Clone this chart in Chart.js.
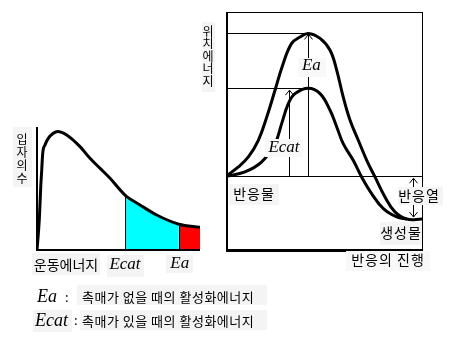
<!DOCTYPE html>
<html>
<head>
<meta charset="utf-8">
<script src="https://cdn.jsdelivr.net/npm/chart.js@4"></script>
<style>
  html, body { margin: 0; padding: 0; background: #fff; }
  #wrap { position: relative; width: 454px; height: 340px; }
  #wrap canvas { position: absolute; left: 0; top: 0; pointer-events: none; }
</style>
</head>
<body>
<div id="wrap">
  <canvas id="dist" width="454" height="340"></canvas>
  <canvas id="profile" width="454" height="340"></canvas>
</div>
<script>
// ---- Kinetic energy distribution (left panel) ----
const energy    = [0, 0.14, 0.23, 0.29, 0.35, 0.49, 0.69, 1.0, 1.26, 1.82, 2.64, 3.25, 3.87, 4.48, 5.4, 6.32, 7.34, 8.7, 10];
const particles = [0, 23.1, 48.7, 61.5, 74.4, 80.8, 85.9, 89.8, 91.2, 88.5, 79.5, 70.5, 62.8, 55.2, 42.3, 34.6, 26.9, 19.8, 17.5];
const ECAT = 5.4;   // activation energy with catalyst
const EA = 8.7;     // activation energy without catalyst
const DIST_AXIS_TOP = 94.6;

// ---- Potential energy along the reaction (right panel) ----
const progressEa  = [0, 6.3, 11.4, 16.5, 20.8, 25, 29.2, 33.5, 37.8, 42, 48, 53.1, 56.5, 59.8, 63.3, 67.5, 71.8, 76, 81.1, 86.2, 92.2, 100];
const energyEa    = [0, 3.9, 8.1, 15.1, 24.9, 36.1, 47.4, 55.8, 58.5, 60, 57.9, 52.9, 44.5, 33.3, 23.5, 15.1, 6.7, -0.3, -8.7, -15, -18, -18];
const progressCat = [0, 9.7, 18.2, 25, 28.4, 31.8, 35.2, 42, 48, 53.1, 56.5, 59.8, 64.9, 69.2, 74.3, 80.3, 87.1, 92.2];
const energyCat   = [0, 1.8, 6, 13.7, 22.1, 30.5, 34.7, 37, 34.7, 27.7, 20.7, 13.7, 6.7, -0.3, -7.3, -13.6, -17.1, -18];
const REACTANT = 0;
const PRODUCT = -18;
const PEAK_X = 42;
const ECAT_ARROW_X = 32;
const HEAT_ARROW_X = 95.4;

// ---- Text ----
const distYTitle = '입자의수';
const distXTitle = '운동에너지';
const profileYTitle = '위치에너지';
const profileXTitle = '반응의 진행';
const reactantLabel = '반응물';
const productLabel = '생성물';
const heatLabel = '반응열';
const eaName = 'Ea';
const ecatName = 'Ecat';
const eaNote = '촉매가 없을 때의 활성화에너지';
const ecatNote = '촉매가 있을 때의 활성화에너지';

const KO = '"Noto Sans CJK KR", "Noto Sans", sans-serif';
const MATH = 'italic 17px "Liberation Serif", "DejaVu Serif", serif';
const MATH_KEY = 'italic 18px "Liberation Serif", "DejaVu Serif", serif';
const BOX = '#f4f4f4';

const pts = (xs, ys) => xs.map((x, i) => ({ x, y: ys[i] }));

function seg(ctx, x1, y1, x2, y2, w) {
  ctx.save();
  ctx.strokeStyle = '#000';
  ctx.lineWidth = w || 1;
  const odd = (w || 1) % 2 === 1;
  if (x1 === x2 && odd) { x1 = x2 = Math.round(x1) + 0.5; }
  if (y1 === y2 && odd) { y1 = y2 = Math.round(y1) + 0.5; }
  ctx.beginPath();
  ctx.moveTo(x1, y1);
  ctx.lineTo(x2, y2);
  ctx.stroke();
  ctx.restore();
}

function head(ctx, x, y, dir) {
  // open chevron; dir = -1 points up, +1 points down
  const xc = Math.round(x) + 0.5;
  ctx.save();
  ctx.strokeStyle = '#000';
  ctx.lineWidth = 1;
  ctx.beginPath();
  ctx.moveTo(xc - 4, y - dir * 5);
  ctx.lineTo(xc, y);
  ctx.lineTo(xc + 4, y - dir * 5);
  ctx.stroke();
  ctx.restore();
}

function label(ctx, text, cx, cy, font, spacing) {
  ctx.save();
  ctx.fillStyle = '#000';
  ctx.font = font;
  ctx.letterSpacing = spacing || '0px';
  ctx.textAlign = 'center';
  ctx.textBaseline = 'middle';
  ctx.fillText(text, cx, cy);
  ctx.restore();
}

function leftLabel(ctx, text, x, cy, font, spacing) {
  ctx.save();
  ctx.fillStyle = '#000';
  ctx.font = font;
  ctx.letterSpacing = spacing || '0px';
  ctx.textAlign = 'left';
  ctx.textBaseline = 'middle';
  ctx.fillText(text, x, cy);
  ctx.restore();
}

function box(ctx, x, y, w, h, color) {
  ctx.save();
  ctx.fillStyle = color || BOX;
  ctx.fillRect(x, y, w, h);
  ctx.restore();
}

function stacked(ctx, text, cx, cy0, step, font) {
  [...text].forEach((ch, i) => label(ctx, ch, cx, cy0 + i * step, font));
}

// ---------------- left chart ----------------
const distPlugin = {
  id: 'distDecor',
  afterDatasetsDraw(chart) {
    const { ctx, scales: { x, y } } = chart;
    const x0 = x.getPixelForValue(0);
    const y0 = y.getPixelForValue(0);
    // axes
    seg(ctx, x0, y.getPixelForValue(DIST_AXIS_TOP), x0, y0 + 1, 2);
    seg(ctx, x0, y0, x.getPixelForValue(energy[energy.length - 1]), y0, 2);
    // threshold lines
    const yc = particles[energy.indexOf(ECAT)];
    const ya = particles[energy.indexOf(EA)];
    seg(ctx, x.getPixelForValue(ECAT), y0, x.getPixelForValue(ECAT), y.getPixelForValue(yc), 1);
    seg(ctx, x.getPixelForValue(EA), y0, x.getPixelForValue(EA), y.getPixelForValue(ya), 1);

    // titles
    box(ctx, 13, 127, 19, 60);
    stacked(ctx, distYTitle, 22, 139, 13, `12px ${KO}`);
    box(ctx, 32, 253, 68, 22);
    label(ctx, distXTitle, 66, 265, `14px ${KO}`);
    box(ctx, 107, 255, 37, 22);
    label(ctx, ecatName, x.getPixelForValue(ECAT), 265, MATH);
    box(ctx, 166, 255, 27, 18);
    label(ctx, eaName, x.getPixelForValue(EA) + 1, 264, MATH);
  }
};

const distCurve = pts(energy, particles);
new Chart(document.getElementById('dist'), {
  type: 'line',
  data: {
    datasets: [
      {
        data: distCurve,
        borderColor: '#000',
        borderWidth: 3,
        pointRadius: 0,
        fill: false,
        cubicInterpolationMode: 'monotone'
      },
      {
        data: distCurve.filter(p => p.x >= ECAT && p.x <= EA),
        borderWidth: 0,
        borderColor: 'rgba(0,0,0,0)',
        backgroundColor: '#00ffff',
        pointRadius: 0,
        fill: 'origin',
        cubicInterpolationMode: 'monotone'
      },
      {
        data: distCurve.filter(p => p.x >= EA),
        borderWidth: 0,
        borderColor: 'rgba(0,0,0,0)',
        backgroundColor: '#ff0000',
        pointRadius: 0,
        fill: 'origin',
        cubicInterpolationMode: 'monotone'
      }
    ]
  },
  options: {
    responsive: false,
    animation: false,
    events: [],
    layout: { padding: { left: 37, right: 254, top: 120, bottom: 90 } },
    plugins: { legend: { display: false }, tooltip: { enabled: false } },
    scales: {
      x: { type: 'linear', min: 0, max: 10, display: false },
      y: { type: 'linear', min: 0, max: 100, display: false }
    }
  },
  plugins: [distPlugin]
});

// ---------------- right chart ----------------
const profilePlugin = {
  id: 'profileDecor',
  beforeDatasetsDraw(chart) {
    const { ctx, chartArea: a, scales: { x, y } } = chart;
    const eaLevel = Math.max(...energyEa);
    const catLevel = Math.max(...energyCat);
    const px = x.getPixelForValue(PEAK_X);
    const yr = y.getPixelForValue(REACTANT);
    // energy levels
    seg(ctx, a.left, y.getPixelForValue(eaLevel), px, y.getPixelForValue(eaLevel), 1);
    seg(ctx, a.left, y.getPixelForValue(catLevel), px, y.getPixelForValue(catLevel), 1);
    seg(ctx, a.left, yr, a.right, yr, 1);
    // Ea arrow
    seg(ctx, px, yr, px, y.getPixelForValue(eaLevel) + 1, 1);
    head(ctx, px, y.getPixelForValue(eaLevel) + 1, -1);
    // Ecat arrow
    const cx = x.getPixelForValue(ECAT_ARROW_X);
    seg(ctx, cx, yr, cx, y.getPixelForValue(catLevel) + 2, 1);
    head(ctx, cx, y.getPixelForValue(catLevel) + 2, -1);
    // heat of reaction arrow
    const hx = x.getPixelForValue(HEAT_ARROW_X);
    const yp = y.getPixelForValue(PRODUCT);
    seg(ctx, hx, yr + 2, hx, yp - 2, 1);
    head(ctx, hx, yr + 2, -1);
    head(ctx, hx, yp - 2, 1);
  },
  afterDatasetsDraw(chart) {
    const { ctx, chartArea: a, scales: { x, y } } = chart;
    // frame
    seg(ctx, a.left, a.top, a.right, a.top, 1);
    seg(ctx, a.right, a.top, a.right, a.bottom, 1);
    seg(ctx, a.left + 1, a.top, a.left + 1, a.bottom, 2);
    seg(ctx, a.left, a.bottom, a.right + 1, a.bottom, 3);

    const px = x.getPixelForValue(PEAK_X);
    // labels on the diagram
    box(ctx, px - 10, 58, 28, 19, '#f8f8f8');
    label(ctx, eaName, px + 3, 66, MATH);
    box(ctx, 265, 139, 38, 18, '#f8f8f8');
    label(ctx, ecatName, 284, 148, MATH);
    box(ctx, 229, 184, 50, 21);
    label(ctx, reactantLabel, 254, 194, `14px ${KO}`, '1px');
    box(ctx, 398, 187, 45, 18);
    label(ctx, heatLabel, 419, 196, `14px ${KO}`, '1px');
    box(ctx, 380, 222, 42, 23);
    label(ctx, productLabel, 401, 233, `14px ${KO}`, '1px');
    box(ctx, 346, 251, 84, 20, '#f8f8f8');
    label(ctx, profileXTitle, 388, 260, `14px ${KO}`, '1px');
    box(ctx, 202, 22, 13, 70);
    stacked(ctx, profileYTitle, 208, 31, 12.5, `12px ${KO}`);

    // key below the charts
    box(ctx, 77, 285, 190, 20);
    leftLabel(ctx, eaName, 37, 297, MATH_KEY);
    leftLabel(ctx, ':', 65, 297, `13px ${KO}`);
    leftLabel(ctx, eaNote, 82, 297, `13px ${KO}`, '0.5px');
    box(ctx, 33, 310, 39, 22);
    box(ctx, 80, 310, 187, 20);
    leftLabel(ctx, ecatName, 35, 321, MATH_KEY);
    leftLabel(ctx, ':', 74, 320, `13px ${KO}`);
    leftLabel(ctx, ecatNote, 82, 321, `13px ${KO}`, '0.5px');
  }
};

new Chart(document.getElementById('profile'), {
  type: 'line',
  data: {
    datasets: [
      {
        data: pts(progressEa, energyEa),
        borderColor: '#000',
        borderWidth: 3,
        pointRadius: 0,
        fill: false,
        tension: 0.4
      },
      {
        data: pts(progressCat, energyCat),
        borderColor: '#000',
        borderWidth: 3,
        pointRadius: 0,
        fill: false,
        tension: 0.4
      }
    ]
  },
  options: {
    responsive: false,
    animation: false,
    events: [],
    layout: { padding: { left: 226, right: 32, top: 12, bottom: 90 } },
    plugins: { legend: { display: false }, tooltip: { enabled: false } },
    scales: {
      x: { type: 'linear', min: 0, max: 100, display: false },
      y: { type: 'linear', min: -31, max: 69, display: false }
    }
  },
  plugins: [profilePlugin]
});
</script>
</body>
</html>
